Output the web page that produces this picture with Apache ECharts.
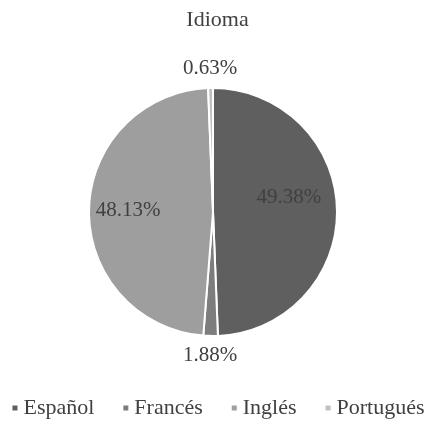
<!DOCTYPE html>
<html>
<head>
<meta charset="utf-8">
<script src="https://cdn.jsdelivr.net/npm/echarts@6/dist/echarts.min.js"></script>
<style>
  html, body { margin: 0; padding: 0; background: #ffffff; }
  #chart { width: 435px; height: 427px; }
</style>
</head>
<body>
<div id="chart"></div>
<script>
// datos
var categories = ['Español', 'Francés', 'Inglés', 'Portugués'];
var values = [49.38, 1.88, 48.13, 0.63];
var colors = ['#5f5f5f', '#7d7d7d', '#9e9e9e', '#c0c0c0'];
var labelInside = [true, false, true, false];
var labelOffsets = [[11, -13], [0, 0], [-20, 0], [0, 0]];

var fontFam = '"Liberation Serif", "DejaVu Serif", serif';

var data = categories.map(function (name, i) {
  return {
    name: name,
    value: values[i],
    itemStyle: { color: colors[i] },
    label: labelInside[i]
      ? { position: 'inside', offset: labelOffsets[i] }
      : { position: 'outside', distanceToLabelLine: 0 },
    labelLine: { show: false, length: 20, length2: 0 }
  };
});

var myChart = echarts.init(document.getElementById('chart'));

var option = {
  animation: false,
  title: {
    text: 'Idioma',
    left: 'center',
    top: 4,
    textStyle: {
      fontFamily: fontFam,
      fontWeight: 'normal',
      fontSize: 22,
      color: '#404040'
    }
  },
  legend: {
    data: categories,
    bottom: 3,
    left: 'center',
    icon: 'rect',
    itemWidth: 7,
    itemHeight: 7,
    itemGap: 27,
    textStyle: {
      fontFamily: fontFam,
      fontSize: 22,
      color: '#404040'
    }
  },
  series: [
    {
      name: 'Idioma',
      type: 'pie',
      center: [213, 212],
      radius: 124,
      startAngle: 90,
      clockwise: true,
      data: data,
      itemStyle: {
        borderColor: '#ffffff',
        borderWidth: 2
      },
      label: {
        show: true,
        formatter: function (p) { return p.value.toFixed(2) + '%'; },
        fontFamily: fontFam,
        fontSize: 21,
        color: '#404040'
      },
      labelLayout: function (p) {
        if (!labelInside[p.dataIndex]) {
          return { align: 'center', verticalAlign: 'middle' };
        }
        return {};
      }
    }
  ]
};

myChart.setOption(option);
</script>
</body>
</html>
